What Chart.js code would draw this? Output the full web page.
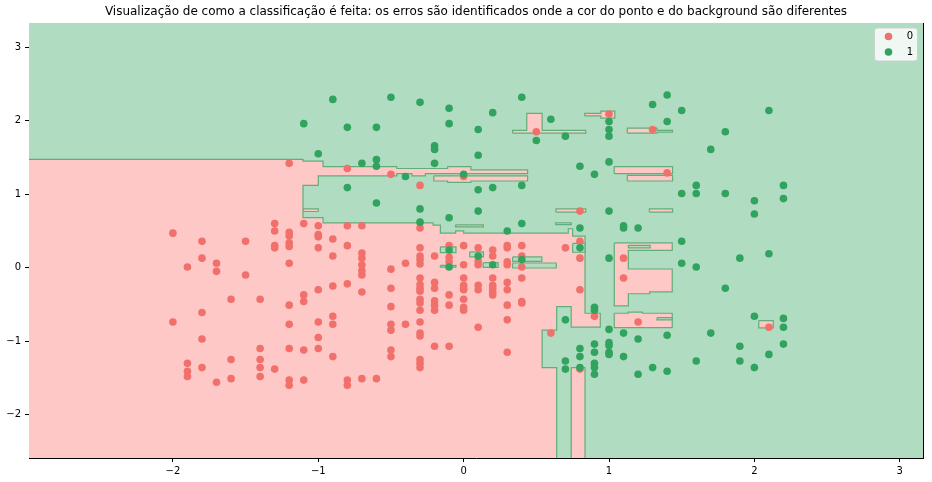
<!DOCTYPE html>
<html>
<head>
<meta charset="utf-8">
<script src="https://cdn.jsdelivr.net/npm/chart.js@4.4.1/dist/chart.umd.min.js"></script>
<style>
  html, body { margin: 0; padding: 0; background: #fff; }
  #wrap { width: 932px; height: 482px; }
</style>
</head>
<body>
<div id="wrap"><canvas id="chart" width="932" height="482"></canvas></div>
<script>
const titleText = "Visualização de como a classificação é feita: os erros são identificados onde a cor do ponto e do background são diferentes";
const classLabels = ["0", "1"];
const xTicks = [-2, -1, 0, 1, 2, 3];
const yTicks = [-2, -1, 0, 1, 2, 3];
const xRange = [-2.99, 3.16];
const yRange = [-2.59, 3.33];

// points of class 0, by column: [x, [y, ...]]
const class0Columns = [
  [-2.0, [0.47, -0.74]],
  [-1.9, [0.01, -1.30, -1.41, -1.48]],
  [-1.8, [0.36, 0.13, -0.61, -0.97, -1.36]],
  [-1.7, [0.06, -0.05, -1.56]],
  [-1.6, [-0.43, -1.25, -1.51]],
  [-1.5, [0.36, -0.10]],
  [-1.4, [-0.43, -1.10, -1.25, -1.36, -1.48]],
  [-1.3, [0.60, 0.50, 0.30, 0.27, -1.38]],
  [-1.2, [1.42, 0.48, 0.43, 0.34, 0.29, 0.06, -0.51, -0.77, -1.10, -1.53, -1.60]],
  [-1.1, [0.60, -0.37, -0.46, -1.12, -1.53]],
  [-1.0, [0.57, 0.45, 0.42, 0.27, -0.30, -0.74, -0.95, -1.10]],
  [-0.9, [0.39, 0.16, -0.25, -0.66, -0.77, -1.21]],
  [-0.8, [1.35, 0.57, 0.30, -0.22, -1.53, -1.60]],
  [-0.7, [0.57, 0.20, 0.13, 0.04, -0.04, -0.10, -0.33, -1.51]],
  [-0.6, [-1.51]],
  [-0.5, [1.27, -0.02, -0.28, -0.53, -0.77, -0.85, -1.12, -1.21]],
  [-0.4, [0.06, -0.77]],
  [-0.3, [1.12, 0.54, 0.27, 0.16, 0.11, 0.05, -0.14, -0.23, -0.28, -0.32, -0.43, -0.48, -0.58, -0.74, -0.89, -0.93, -1.25, -1.30, -1.36]],
  [-0.2, [0.16, -0.20, -0.28, -0.45, -0.51, -0.58, -1.07]],
  [-0.1, [0.30, 0.14, 0.08, -0.37, -0.51, -1.07]],
  [0.0, [1.24, 0.30, 0.04, -0.14, -0.24, -0.28, -0.30, -0.43, -0.54, -0.58]],
  [0.1, [0.27, 0.09, 0.04, -0.24, -0.30, -0.81]],
  [0.2, [0.24, 0.16, -0.14, -0.24, -0.28, -0.33, -0.37]],
  [0.3, [0.30, 0.27, 0.08, 0.04, -0.20, -0.30, -0.51, -0.71, -1.15]],
  [0.4, [0.30, 0.16, 0.01, -0.14, -0.46, -0.48]],
  [0.5, [1.85]],
  [0.6, [-0.89]],
  [0.7, [0.27]],
  [0.8, [0.77, 0.36, 0.13, -0.30, -1.38]],
  [0.9, [-0.66]],
  [1.0, [2.09]],
  [1.1, [0.13, -0.14]],
  [1.2, [-0.74]],
  [1.3, [1.88]],
  [1.4, [1.29]],
  [2.1, [-0.81]],
];

// points of class 1
const class1Columns = [
  [-1.1, [1.96]],
  [-1.0, [1.55]],
  [-0.9, [2.29]],
  [-0.8, [1.91, 1.09]],
  [-0.7, [1.42]],
  [-0.6, [1.91, 1.47, 1.38, 0.88]],
  [-0.5, [2.32]],
  [-0.4, [1.24]],
  [-0.3, [2.25, 0.80, 0.62]],
  [-0.2, [1.66, 1.61, 1.42]],
  [-0.1, [2.17, 1.96, 0.68, 0.24, 0.01]],
  [0.0, [1.27]],
  [0.1, [1.88, 1.53, 1.06, 0.77, 0.16]],
  [0.2, [2.11, 1.09, 0.04]],
  [0.3, [0.50]],
  [0.4, [2.32, 1.12, 0.60, 0.11]],
  [0.5, [1.73]],
  [0.6, [2.02]],
  [0.7, [1.79, -0.71, -1.27, -1.38]],
  [0.8, [1.38, 0.54, 0.27, -1.10, -1.21, -1.36]],
  [0.9, [1.27, -0.54, -0.58, -1.04, -1.15, -1.30, -1.36, -1.45]],
  [1.0, [1.99, 1.88, 1.79, 1.44, 0.77, 0.13, -0.84, -1.02, -1.06, -1.15, -1.18]],
  [1.1, [0.57, 0.54, -0.89, -1.21]],
  [1.2, [0.54, -0.97, -1.45]],
  [1.3, [2.22, -1.36]],
  [1.4, [2.35, 1.99, -0.92, -1.41]],
  [1.5, [2.14, 1.01, 0.36, 0.06]],
  [1.6, [1.12, 1.01, 0.01, -1.27]],
  [1.7, [1.61, -0.89]],
  [1.8, [1.85, 1.01, -0.28]],
  [1.9, [0.13, -1.07, -1.27]],
  [2.0, [0.91, 0.73, -0.66, -1.36]],
  [2.1, [2.14, 0.19, -1.18]],
  [2.2, [1.12, 0.94, -0.69, -0.81, -1.04]],
];

// decision regions
const backgroundRegion = [[-3.2, -2.8], [3.3, -2.8], [3.3, 3.5], [-3.2, 3.5]];

const class0Regions = [
  [[-3.2, -2.8], [-3.2, 1.475], [-1.105, 1.475], [-1.105, 1.45], [-0.967, 1.45], [-0.967, 1.375],
   [-0.46, 1.375], [-0.46, 1.35], [-0.11, 1.35], [-0.11, 1.375], [0.05, 1.375], [0.05, 1.33],
   [0.44, 1.33], [0.44, 1.28], [-0.263, 1.28], [-0.263, 1.25], [-0.355, 1.25], [-0.355, 1.28],
   [-0.46, 1.28], [-0.46, 1.25], [-1.0, 1.25], [-1.0, 1.12], [-1.105, 1.12], [-1.105, 0.68],
   [-0.967, 0.68], [-0.967, 0.61], [-0.21, 0.61], [-0.21, 0.58], [-0.16, 0.58], [-0.16, 0.47],
   [-0.055, 0.47], [-0.055, 0.50], [0.0, 0.50], [0.0, 0.47], [0.72, 0.47], [0.72, 0.53],
   [0.75, 0.53], [0.75, 0.43], [0.835, 0.43], [0.835, -0.62], [0.94, -0.62], [0.94, -0.81],
   [0.74, -0.81], [0.74, -0.53], [0.64, -0.53], [0.64, -0.85], [0.54, -0.85], [0.54, -1.36],
   [0.64, -1.36], [0.64, -2.8]],
  [[0.74, -1.36], [0.835, -1.36], [0.835, -2.8], [0.74, -2.8]],
  [[-0.205, 1.25], [0.44, 1.25], [0.44, 1.18], [0.05, 1.18], [0.05, 1.16], [-0.11, 1.16], [-0.11, 1.18], [-0.205, 1.18]],
  [[-1.105, 0.80], [-1.0, 0.80], [-1.0, 0.765], [-1.105, 0.765]],
  [[-0.055, 0.583], [0.136, 0.583], [0.136, 0.556], [-0.055, 0.556]],
  [[0.337, 1.83], [0.84, 1.83], [0.84, 1.87], [0.54, 1.87], [0.54, 2.10], [0.434, 2.10], [0.434, 1.87], [0.337, 1.87]],
  [[0.833, 2.065], [0.944, 2.065], [0.944, 2.035], [1.04, 2.035], [1.04, 2.13], [0.944, 2.13], [0.944, 2.10], [0.833, 2.10]],
  [[1.126, 1.83], [1.33, 1.83], [1.33, 1.845], [1.437, 1.845], [1.437, 1.87], [1.33, 1.87], [1.33, 1.90], [1.126, 1.90]],
  [[1.036, 1.28], [1.437, 1.28], [1.437, 1.375], [1.036, 1.375]],
  [[1.126, 1.18], [1.437, 1.18], [1.437, 1.257], [1.126, 1.257]],
  [[0.635, 0.756], [0.84, 0.756], [0.84, 0.80], [0.635, 0.80]],
  [[0.632, 0.585], [0.74, 0.585], [0.74, 0.61], [0.632, 0.61]],
  [[1.278, 0.756], [1.437, 0.756], [1.437, 0.80], [1.278, 0.80]],
  [[1.036, 0.337], [1.435, 0.337], [1.435, 0.236], [1.133, 0.236], [1.133, -0.018], [1.435, -0.018],
   [1.435, -0.33], [1.28, -0.33], [1.28, -0.355], [1.133, -0.355], [1.133, -0.52], [1.036, -0.52]],
  [[1.036, -0.62], [1.133, -0.62], [1.133, -0.605], [1.23, -0.605], [1.23, -0.62], [1.435, -0.62], [1.435, -0.815], [1.036, -0.815]],
  [[2.03, -0.72], [2.13, -0.72], [2.13, -0.82], [2.03, -0.82]],
];

const class1Islands = [
  [[0.75, 0.33], [0.835, 0.33], [0.835, 0.21], [0.75, 0.21]],
  [[-0.16, 0.283], [-0.053, 0.283], [-0.053, 0.205], [-0.16, 0.205]],
  [[-0.16, 0.031], [-0.053, 0.031], [-0.053, 0.009], [-0.16, 0.009]],
  [[0.042, 0.214], [0.136, 0.214], [0.136, 0.146], [0.042, 0.146]],
  [[0.134, 0.068], [0.237, 0.068], [0.237, 0.004], [0.134, 0.004]],
  [[0.337, 0.146], [0.538, 0.146], [0.538, 0.086], [0.337, 0.086]],
  [[0.337, 0.064], [0.637, 0.064], [0.637, -0.004], [0.337, -0.004]],
  [[1.133, 0.305], [1.283, 0.305], [1.283, 0.27], [1.133, 0.27]],
  [[1.33, -0.68], [1.435, -0.68], [1.435, -0.71], [1.33, -0.71]],
];

const red = "#f1706b";
const green = "#30a35e";
const pinkFill = "#fdc8c5";
const greenFill = "#b0dcc1";
const edgeColor = "#62ae78";
const font = '"DejaVu Sans", sans-serif';

const toPoints = (cols) => cols.flatMap(([x, ys]) => ys.map((y) => ({ x: x, y: y })));

function regionDataset(poly, color, order, edge) {
  const pts = poly.map(([x, y]) => ({ x: x, y: y }));
  pts.push(pts[0]);
  return {
    label: "",
    data: pts,
    showLine: true,
    fill: "shape",
    backgroundColor: color,
    borderColor: edge,
    borderWidth: 1.2,
    pointRadius: 0,
    pointHoverRadius: 0,
    tension: 0,
    clip: 0,
    order: order,
  };
}

const minus = (v) => (v < 0 ? "\u2212" + Math.abs(v) : String(v));

const legendBox = {
  id: "legendBox",
  afterDraw(chart) {
    const { ctx, chartArea } = chart;
    const sets = classLabels.map((l) => chart.data.datasets.find((d) => d.label === l));
    const w = 43, h = 33;
    const x0 = chartArea.right - 5.5 - w;
    const y0 = chartArea.top + 5;
    ctx.save();
    ctx.beginPath();
    ctx.roundRect(x0, y0, w, h, 3);
    ctx.fillStyle = "rgba(255,255,255,0.8)";
    ctx.fill();
    ctx.strokeStyle = "rgba(204,204,204,0.8)";
    ctx.lineWidth = 1;
    ctx.stroke();
    ctx.font = "10px " + font;
    ctx.textBaseline = "middle";
    ctx.textAlign = "center";
    sets.forEach((d, i) => {
      const cy = y0 + 8.5 + i * 15.5;
      ctx.beginPath();
      ctx.arc(x0 + 14, cy, 3.8, 0, Math.PI * 2);
      ctx.fillStyle = d.backgroundColor;
      ctx.fill();
      ctx.fillStyle = "#000";
      ctx.fillText(d.label, x0 + 35.5, cy);
    });
    ctx.restore();
  },
};

const datasets = [
  {
    label: classLabels[0],
    data: toPoints(class0Columns),
    backgroundColor: red,
    borderWidth: 0,
    pointRadius: 3.8,
    pointHoverRadius: 3.8,
    order: 1,
  },
  {
    label: classLabels[1],
    data: toPoints(class1Columns),
    backgroundColor: green,
    borderWidth: 0,
    pointRadius: 3.8,
    pointHoverRadius: 3.8,
    order: 0,
  },
  ...class1Islands.map((p) => regionDataset(p, greenFill, 2, edgeColor)),
  ...class0Regions.map((p) => regionDataset(p, pinkFill, 3, edgeColor)),
  regionDataset(backgroundRegion, greenFill, 4, greenFill),
];

const axisTicks = {
  color: "#000",
  font: { family: font, size: 10 },
  padding: 3,
  callback: (v) => minus(v),
};
const axisGrid = {
  display: true,
  drawOnChartArea: false,
  drawTicks: true,
  tickLength: 4,
  color: "#000",
};
const axisBorder = { display: true, color: "#000", width: 1 };

new Chart(document.getElementById("chart"), {
  type: "scatter",
  data: { datasets: datasets },
  options: {
    responsive: false,
    animation: false,
    devicePixelRatio: 1,
    layout: { padding: { left: 0, right: 9, top: 0, bottom: 0 } },
    plugins: {
      legend: { display: false },
      tooltip: { enabled: false },
      title: {
        display: true,
        fullSize: false,
        text: titleText,
        color: "#000",
        font: { family: font, size: 12, weight: "normal" },
        padding: { top: 5, bottom: 3.6 },
      },
    },
    scales: {
      x: {
        type: "linear",
        position: "bottom",
        z: 1,
        min: xRange[0],
        max: xRange[1],
        afterBuildTicks: (axis) => { axis.ticks = xTicks.map((v) => ({ value: v })); },
        afterFit: (axis) => { axis.height = 24; },
        ticks: axisTicks,
        grid: axisGrid,
        border: axisBorder,
      },
      y: {
        type: "linear",
        position: "left",
        z: 1,
        min: yRange[0],
        max: yRange[1],
        afterBuildTicks: (axis) => { axis.ticks = yTicks.map((v) => ({ value: v })); },
        afterFit: (axis) => { axis.width = 29; },
        ticks: Object.assign({}, axisTicks, { padding: 4 }),
        grid: axisGrid,
        border: axisBorder,
      },
      x2: {
        type: "linear",
        position: "top",
        display: true,
        z: 1,
        ticks: { display: false },
        grid: { display: false },
        border: axisBorder,
        afterFit: (axis) => { axis.height = 0; },
      },
      y2: {
        type: "linear",
        position: "right",
        display: true,
        z: 1,
        ticks: { display: false },
        grid: { display: false },
        border: axisBorder,
        afterFit: (axis) => { axis.width = 0; },
      },
    },
  },
  plugins: [legendBox],
});
</script>
</body>
</html>
